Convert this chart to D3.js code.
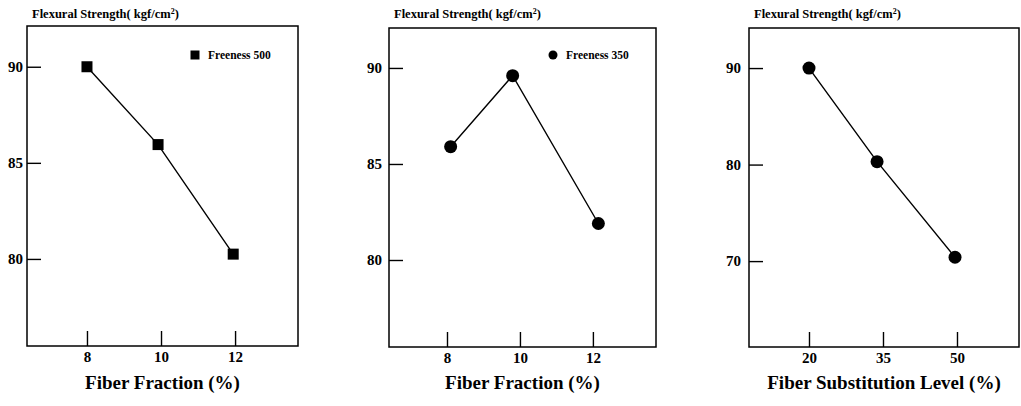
<!DOCTYPE html>
<html>
<head>
<meta charset="utf-8">
<script src="https://cdn.jsdelivr.net/npm/d3@7"></script>
<style>
  body { margin: 0; background: #fff; }
  svg text { font-family: "Liberation Serif", "Times New Roman", serif; font-weight: bold; fill: #000; }
  .axis .domain { display: none; }
  .axis line { stroke: #000; stroke-width: 1.4; }
  .axis text { font-size: 15px; }
</style>
</head>
<body>
<svg id="chart" width="1021" height="406"></svg>
<script>
// values
var yTitle = 'Flexural Strength( kgf/cm';

var fraction500 = [8, 9.92, 11.95];
var strength500 = [90, 85.95, 80.25];

var fraction350 = [8.1, 9.8, 12.15];
var strength350 = [85.9, 89.6, 81.9];

var substitution = [20, 33.8, 49.6];
var strengthSub = [90, 80.3, 70.4];

var fractionTicks = [8, 10, 12];
var substTicks = [20, 35, 50];
var strengthTicks = [80, 85, 90];
var strengthSubTicks = [70, 80, 90];

var xTitles = ['Fiber Fraction (%)', 'Fiber Fraction (%)', 'Fiber Substitution Level (%)'];
var legends = ['Freeness 500', 'Freeness 350', null];

var svg = d3.select('#chart');

// box = left, top, right, bottom of the frame in px
var panels = [
  {box: [27, 26, 298, 346], xd: [6.38, 13.70], yd: [75.47, 92.12],
   xs: fraction500, ys: strength500, xt: fractionTicks, yt: strengthTicks,
   mark: 'square', title: xTitles[0], legend: legends[0], lab: 4},
  {box: [389, 28, 656, 347], xd: [6.41, 13.73], yd: [75.47, 92.08],
   xs: fraction350, ys: strength350, xt: fractionTicks, yt: strengthTicks,
   mark: 'circle', title: xTitles[1], legend: legends[1], lab: 7},
  {box: [749, 28, 1019, 347], xd: [7.84, 62.57], yd: [61.1, 94.15],
   xs: substitution, ys: strengthSub, xt: substTicks, yt: strengthSubTicks,
   mark: 'circle', title: xTitles[2], legend: legends[2], lab: 8}
];

drawMark = (g, kind, cx, cy, size) => {
  if (kind == 'square') {
    g.append('rect')
      .attr('x', cx - size/2).attr('y', cy - size/2)
      .attr('width', size).attr('height', size)
      .attr('fill', '#000');
  } else {
    g.append('circle')
      .attr('cx', cx).attr('cy', cy).attr('r', size/2)
      .attr('fill', '#000');
  }
}

panels.forEach(p => {
  var [l, t, r, b] = p.box;
  var x = d3.scaleLinear().domain(p.xd).range([l, r]);
  var y = d3.scaleLinear().domain(p.yd).range([b, t]);
  var g = svg.append('g');

  // frame
  g.append('rect')
    .attr('x', l).attr('y', t)
    .attr('width', r - l).attr('height', b - t)
    .attr('fill', 'none').attr('stroke', '#000').attr('stroke-width', 1.5);

  // y axis, ticks pointing inward
  g.append('g').attr('class', 'axis')
    .attr('transform', 'translate(' + l + ',0)')
    .call(d3.axisLeft(y).tickValues(p.yt).tickSize(-14).tickPadding(p.lab))
    .attr('font-size', null);

  // x axis
  g.append('g').attr('class', 'axis')
    .attr('transform', 'translate(0,' + b + ')')
    .call(d3.axisBottom(x).tickValues(p.xt).tickSize(-15).tickPadding(5))
    .attr('font-size', null);

  // y title
  var yt = g.append('text')
    .attr('x', l + 5).attr('y', 18)
    .style('font-size', '12.5px')
    .text(yTitle);
  yt.append('tspan').attr('dy', -4).style('font-size', '8px').text('2');
  yt.append('tspan').attr('dy', 4).text(')');

  // x title
  g.append('text')
    .attr('x', (l + r) / 2).attr('y', 389)
    .attr('text-anchor', 'middle')
    .style('font-size', '19px')
    .text(p.title);

  // line and marks
  var pts = p.xs.map((v, i) => [x(v), y(p.ys[i])]);
  g.append('path')
    .datum(pts)
    .attr('d', d3.line())
    .attr('fill', 'none').attr('stroke', '#000').attr('stroke-width', 1.4);
  pts.forEach(d => drawMark(g, p.mark, d[0], d[1], p.mark == 'square' ? 11 : 13));

  // legend
  if (p.legend) {
    var lx = r - 103, ly = 55;
    drawMark(g, p.mark, lx, ly, 9);
    g.append('text')
      .attr('x', lx + 13).attr('y', ly + 4)
      .style('font-size', '11.5px')
      .text(p.legend);
  }
});
</script>
</body>
</html>
